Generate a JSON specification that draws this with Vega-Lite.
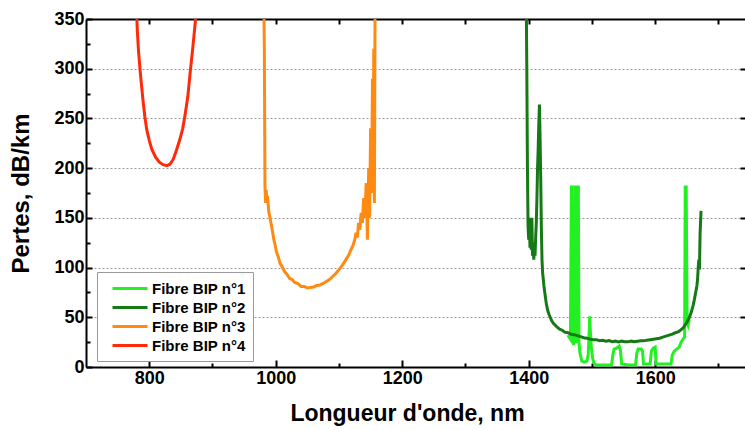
{
  "$schema": "https://vega.github.io/schema/vega-lite/v6.json",
  "autosize": "none",
  "padding": {"left": 86, "top": 19, "right": 0, "bottom": 63},
  "width": 659,
  "height": 348,
  "background": "white",
  "config": {
    "view": {"stroke": null},
    "font": "Liberation Sans",
    "axis": {"labelFont": "Liberation Sans", "titleFont": "Liberation Sans", "labelColor": "black", "titleColor": "black"}
  },
  "data": {"values": [
    {"fibre": "Fibre BIP n°4", "lambda": 779, "pertes": 380},
    {"fibre": "Fibre BIP n°4", "lambda": 781, "pertes": 340},
    {"fibre": "Fibre BIP n°4", "lambda": 783, "pertes": 318},
    {"fibre": "Fibre BIP n°4", "lambda": 786, "pertes": 295},
    {"fibre": "Fibre BIP n°4", "lambda": 790, "pertes": 269},
    {"fibre": "Fibre BIP n°4", "lambda": 793, "pertes": 252},
    {"fibre": "Fibre BIP n°4", "lambda": 796, "pertes": 239},
    {"fibre": "Fibre BIP n°4", "lambda": 800, "pertes": 228},
    {"fibre": "Fibre BIP n°4", "lambda": 804, "pertes": 219},
    {"fibre": "Fibre BIP n°4", "lambda": 810, "pertes": 211},
    {"fibre": "Fibre BIP n°4", "lambda": 816, "pertes": 206},
    {"fibre": "Fibre BIP n°4", "lambda": 822, "pertes": 203.5},
    {"fibre": "Fibre BIP n°4", "lambda": 828, "pertes": 202.5},
    {"fibre": "Fibre BIP n°4", "lambda": 833, "pertes": 204},
    {"fibre": "Fibre BIP n°4", "lambda": 838, "pertes": 209},
    {"fibre": "Fibre BIP n°4", "lambda": 843, "pertes": 218},
    {"fibre": "Fibre BIP n°4", "lambda": 848, "pertes": 228},
    {"fibre": "Fibre BIP n°4", "lambda": 853, "pertes": 240},
    {"fibre": "Fibre BIP n°4", "lambda": 857, "pertes": 255},
    {"fibre": "Fibre BIP n°4", "lambda": 861, "pertes": 272},
    {"fibre": "Fibre BIP n°4", "lambda": 865, "pertes": 298},
    {"fibre": "Fibre BIP n°4", "lambda": 869, "pertes": 322},
    {"fibre": "Fibre BIP n°4", "lambda": 873, "pertes": 348},
    {"fibre": "Fibre BIP n°4", "lambda": 875, "pertes": 370},

    {"fibre": "Fibre BIP n°3", "lambda": 981, "pertes": 380},
    {"fibre": "Fibre BIP n°3", "lambda": 982, "pertes": 320},
    {"fibre": "Fibre BIP n°3", "lambda": 982.5, "pertes": 250},
    {"fibre": "Fibre BIP n°3", "lambda": 983, "pertes": 181},
    {"fibre": "Fibre BIP n°3", "lambda": 984, "pertes": 165},
    {"fibre": "Fibre BIP n°3", "lambda": 985, "pertes": 178},
    {"fibre": "Fibre BIP n°3", "lambda": 986, "pertes": 166},
    {"fibre": "Fibre BIP n°3", "lambda": 987, "pertes": 172},
    {"fibre": "Fibre BIP n°3", "lambda": 989, "pertes": 156},
    {"fibre": "Fibre BIP n°3", "lambda": 991, "pertes": 150},
    {"fibre": "Fibre BIP n°3", "lambda": 993, "pertes": 143},
    {"fibre": "Fibre BIP n°3", "lambda": 995, "pertes": 136},
    {"fibre": "Fibre BIP n°3", "lambda": 997, "pertes": 128},
    {"fibre": "Fibre BIP n°3", "lambda": 999, "pertes": 123},
    {"fibre": "Fibre BIP n°3", "lambda": 1001, "pertes": 116},
    {"fibre": "Fibre BIP n°3", "lambda": 1004, "pertes": 111},
    {"fibre": "Fibre BIP n°3", "lambda": 1007, "pertes": 104},
    {"fibre": "Fibre BIP n°3", "lambda": 1010, "pertes": 101},
    {"fibre": "Fibre BIP n°3", "lambda": 1014, "pertes": 96},
    {"fibre": "Fibre BIP n°3", "lambda": 1018, "pertes": 93},
    {"fibre": "Fibre BIP n°3", "lambda": 1022, "pertes": 89},
    {"fibre": "Fibre BIP n°3", "lambda": 1026, "pertes": 88},
    {"fibre": "Fibre BIP n°3", "lambda": 1030, "pertes": 85},
    {"fibre": "Fibre BIP n°3", "lambda": 1035, "pertes": 84},
    {"fibre": "Fibre BIP n°3", "lambda": 1040, "pertes": 81},
    {"fibre": "Fibre BIP n°3", "lambda": 1045, "pertes": 81},
    {"fibre": "Fibre BIP n°3", "lambda": 1050, "pertes": 79.5},
    {"fibre": "Fibre BIP n°3", "lambda": 1055, "pertes": 80},
    {"fibre": "Fibre BIP n°3", "lambda": 1060, "pertes": 80.5},
    {"fibre": "Fibre BIP n°3", "lambda": 1065, "pertes": 82},
    {"fibre": "Fibre BIP n°3", "lambda": 1070, "pertes": 82.5},
    {"fibre": "Fibre BIP n°3", "lambda": 1075, "pertes": 84},
    {"fibre": "Fibre BIP n°3", "lambda": 1080, "pertes": 86},
    {"fibre": "Fibre BIP n°3", "lambda": 1085, "pertes": 88},
    {"fibre": "Fibre BIP n°3", "lambda": 1090, "pertes": 91},
    {"fibre": "Fibre BIP n°3", "lambda": 1095, "pertes": 94},
    {"fibre": "Fibre BIP n°3", "lambda": 1100, "pertes": 98},
    {"fibre": "Fibre BIP n°3", "lambda": 1105, "pertes": 102},
    {"fibre": "Fibre BIP n°3", "lambda": 1110, "pertes": 107},
    {"fibre": "Fibre BIP n°3", "lambda": 1115, "pertes": 112},
    {"fibre": "Fibre BIP n°3", "lambda": 1119, "pertes": 118},
    {"fibre": "Fibre BIP n°3", "lambda": 1122, "pertes": 122},
    {"fibre": "Fibre BIP n°3", "lambda": 1125, "pertes": 128},
    {"fibre": "Fibre BIP n°3", "lambda": 1127, "pertes": 135},
    {"fibre": "Fibre BIP n°3", "lambda": 1129, "pertes": 130},
    {"fibre": "Fibre BIP n°3", "lambda": 1131, "pertes": 145},
    {"fibre": "Fibre BIP n°3", "lambda": 1133, "pertes": 138},
    {"fibre": "Fibre BIP n°3", "lambda": 1135, "pertes": 155},
    {"fibre": "Fibre BIP n°3", "lambda": 1137, "pertes": 145},
    {"fibre": "Fibre BIP n°3", "lambda": 1139, "pertes": 170},
    {"fibre": "Fibre BIP n°3", "lambda": 1141, "pertes": 150},
    {"fibre": "Fibre BIP n°3", "lambda": 1143, "pertes": 185},
    {"fibre": "Fibre BIP n°3", "lambda": 1145, "pertes": 128},
    {"fibre": "Fibre BIP n°3", "lambda": 1147, "pertes": 200},
    {"fibre": "Fibre BIP n°3", "lambda": 1148.5, "pertes": 150},
    {"fibre": "Fibre BIP n°3", "lambda": 1150, "pertes": 240},
    {"fibre": "Fibre BIP n°3", "lambda": 1151.5, "pertes": 175},
    {"fibre": "Fibre BIP n°3", "lambda": 1153, "pertes": 290},
    {"fibre": "Fibre BIP n°3", "lambda": 1154, "pertes": 200},
    {"fibre": "Fibre BIP n°3", "lambda": 1155, "pertes": 320},
    {"fibre": "Fibre BIP n°3", "lambda": 1156, "pertes": 165},
    {"fibre": "Fibre BIP n°3", "lambda": 1157, "pertes": 350},
    {"fibre": "Fibre BIP n°3", "lambda": 1158, "pertes": 380},

    {"fibre": "Fibre BIP n°1", "lambda": 1462, "pertes": 32},
    {"fibre": "Fibre BIP n°1", "lambda": 1466, "pertes": 28},
    {"fibre": "Fibre BIP n°1", "lambda": 1467.5, "pertes": 181},
    {"fibre": "Fibre BIP n°1", "lambda": 1468.5, "pertes": 181},
    {"fibre": "Fibre BIP n°1", "lambda": 1469.5, "pertes": 40},
    {"fibre": "Fibre BIP n°1", "lambda": 1471, "pertes": 22},
    {"fibre": "Fibre BIP n°1", "lambda": 1472.5, "pertes": 30},
    {"fibre": "Fibre BIP n°1", "lambda": 1473.5, "pertes": 181},
    {"fibre": "Fibre BIP n°1", "lambda": 1474.5, "pertes": 181},
    {"fibre": "Fibre BIP n°1", "lambda": 1475.5, "pertes": 30},
    {"fibre": "Fibre BIP n°1", "lambda": 1476.5, "pertes": 24},
    {"fibre": "Fibre BIP n°1", "lambda": 1477.5, "pertes": 181},
    {"fibre": "Fibre BIP n°1", "lambda": 1478.5, "pertes": 181},
    {"fibre": "Fibre BIP n°1", "lambda": 1479.5, "pertes": 25},
    {"fibre": "Fibre BIP n°1", "lambda": 1481, "pertes": 14},
    {"fibre": "Fibre BIP n°1", "lambda": 1484, "pertes": 6},
    {"fibre": "Fibre BIP n°1", "lambda": 1488, "pertes": 5},
    {"fibre": "Fibre BIP n°1", "lambda": 1492, "pertes": 6},
    {"fibre": "Fibre BIP n°1", "lambda": 1494, "pertes": 12},
    {"fibre": "Fibre BIP n°1", "lambda": 1495.5, "pertes": 32},
    {"fibre": "Fibre BIP n°1", "lambda": 1496.5, "pertes": 51},
    {"fibre": "Fibre BIP n°1", "lambda": 1497.5, "pertes": 36},
    {"fibre": "Fibre BIP n°1", "lambda": 1499, "pertes": 20},
    {"fibre": "Fibre BIP n°1", "lambda": 1501, "pertes": 9},
    {"fibre": "Fibre BIP n°1", "lambda": 1503, "pertes": 4},
    {"fibre": "Fibre BIP n°1", "lambda": 1506, "pertes": 2},
    {"fibre": "Fibre BIP n°1", "lambda": 1518, "pertes": 2},
    {"fibre": "Fibre BIP n°1", "lambda": 1531, "pertes": 2},
    {"fibre": "Fibre BIP n°1", "lambda": 1533, "pertes": 12},
    {"fibre": "Fibre BIP n°1", "lambda": 1535, "pertes": 18},
    {"fibre": "Fibre BIP n°1", "lambda": 1539, "pertes": 19},
    {"fibre": "Fibre BIP n°1", "lambda": 1543, "pertes": 21},
    {"fibre": "Fibre BIP n°1", "lambda": 1545, "pertes": 17},
    {"fibre": "Fibre BIP n°1", "lambda": 1547, "pertes": 3},
    {"fibre": "Fibre BIP n°1", "lambda": 1558, "pertes": 2},
    {"fibre": "Fibre BIP n°1", "lambda": 1569, "pertes": 2},
    {"fibre": "Fibre BIP n°1", "lambda": 1571, "pertes": 14},
    {"fibre": "Fibre BIP n°1", "lambda": 1573, "pertes": 18},
    {"fibre": "Fibre BIP n°1", "lambda": 1578, "pertes": 18},
    {"fibre": "Fibre BIP n°1", "lambda": 1580, "pertes": 16},
    {"fibre": "Fibre BIP n°1", "lambda": 1581.5, "pertes": 3},
    {"fibre": "Fibre BIP n°1", "lambda": 1592, "pertes": 3},
    {"fibre": "Fibre BIP n°1", "lambda": 1594, "pertes": 16},
    {"fibre": "Fibre BIP n°1", "lambda": 1597, "pertes": 19},
    {"fibre": "Fibre BIP n°1", "lambda": 1600, "pertes": 20},
    {"fibre": "Fibre BIP n°1", "lambda": 1601.5, "pertes": 3},
    {"fibre": "Fibre BIP n°1", "lambda": 1612, "pertes": 3},
    {"fibre": "Fibre BIP n°1", "lambda": 1625, "pertes": 3},
    {"fibre": "Fibre BIP n°1", "lambda": 1627, "pertes": 12},
    {"fibre": "Fibre BIP n°1", "lambda": 1630, "pertes": 16},
    {"fibre": "Fibre BIP n°1", "lambda": 1634, "pertes": 18},
    {"fibre": "Fibre BIP n°1", "lambda": 1638, "pertes": 20},
    {"fibre": "Fibre BIP n°1", "lambda": 1641, "pertes": 25},
    {"fibre": "Fibre BIP n°1", "lambda": 1644, "pertes": 28},
    {"fibre": "Fibre BIP n°1", "lambda": 1646.5, "pertes": 30},
    {"fibre": "Fibre BIP n°1", "lambda": 1647.5, "pertes": 181},
    {"fibre": "Fibre BIP n°1", "lambda": 1649, "pertes": 181},
    {"fibre": "Fibre BIP n°1", "lambda": 1650.5, "pertes": 45},
    {"fibre": "Fibre BIP n°1", "lambda": 1652, "pertes": 42},
    {"fibre": "Fibre BIP n°1", "lambda": 1654, "pertes": 48},

    {"fibre": "Fibre BIP n°2", "lambda": 1396, "pertes": 380},
    {"fibre": "Fibre BIP n°2", "lambda": 1397, "pertes": 300},
    {"fibre": "Fibre BIP n°2", "lambda": 1398, "pertes": 200},
    {"fibre": "Fibre BIP n°2", "lambda": 1399, "pertes": 141},
    {"fibre": "Fibre BIP n°2", "lambda": 1400, "pertes": 128},
    {"fibre": "Fibre BIP n°2", "lambda": 1401, "pertes": 150},
    {"fibre": "Fibre BIP n°2", "lambda": 1402, "pertes": 120},
    {"fibre": "Fibre BIP n°2", "lambda": 1403, "pertes": 140},
    {"fibre": "Fibre BIP n°2", "lambda": 1404, "pertes": 118},
    {"fibre": "Fibre BIP n°2", "lambda": 1405, "pertes": 150},
    {"fibre": "Fibre BIP n°2", "lambda": 1406, "pertes": 112},
    {"fibre": "Fibre BIP n°2", "lambda": 1407, "pertes": 125},
    {"fibre": "Fibre BIP n°2", "lambda": 1408, "pertes": 108},
    {"fibre": "Fibre BIP n°2", "lambda": 1409, "pertes": 118},
    {"fibre": "Fibre BIP n°2", "lambda": 1410, "pertes": 112},
    {"fibre": "Fibre BIP n°2", "lambda": 1411, "pertes": 130},
    {"fibre": "Fibre BIP n°2", "lambda": 1412, "pertes": 145},
    {"fibre": "Fibre BIP n°2", "lambda": 1413, "pertes": 170},
    {"fibre": "Fibre BIP n°2", "lambda": 1414, "pertes": 200},
    {"fibre": "Fibre BIP n°2", "lambda": 1415, "pertes": 220},
    {"fibre": "Fibre BIP n°2", "lambda": 1416, "pertes": 245},
    {"fibre": "Fibre BIP n°2", "lambda": 1417, "pertes": 264},
    {"fibre": "Fibre BIP n°2", "lambda": 1418, "pertes": 230},
    {"fibre": "Fibre BIP n°2", "lambda": 1419, "pertes": 190},
    {"fibre": "Fibre BIP n°2", "lambda": 1420, "pertes": 140},
    {"fibre": "Fibre BIP n°2", "lambda": 1421, "pertes": 108},
    {"fibre": "Fibre BIP n°2", "lambda": 1422, "pertes": 95},
    {"fibre": "Fibre BIP n°2", "lambda": 1424, "pertes": 82},
    {"fibre": "Fibre BIP n°2", "lambda": 1426, "pertes": 72},
    {"fibre": "Fibre BIP n°2", "lambda": 1428, "pertes": 63},
    {"fibre": "Fibre BIP n°2", "lambda": 1430, "pertes": 57},
    {"fibre": "Fibre BIP n°2", "lambda": 1432, "pertes": 53},
    {"fibre": "Fibre BIP n°2", "lambda": 1434, "pertes": 50},
    {"fibre": "Fibre BIP n°2", "lambda": 1436, "pertes": 47},
    {"fibre": "Fibre BIP n°2", "lambda": 1439, "pertes": 44},
    {"fibre": "Fibre BIP n°2", "lambda": 1442, "pertes": 42},
    {"fibre": "Fibre BIP n°2", "lambda": 1445, "pertes": 40},
    {"fibre": "Fibre BIP n°2", "lambda": 1449, "pertes": 38},
    {"fibre": "Fibre BIP n°2", "lambda": 1453, "pertes": 37},
    {"fibre": "Fibre BIP n°2", "lambda": 1457, "pertes": 35},
    {"fibre": "Fibre BIP n°2", "lambda": 1462, "pertes": 34.5},
    {"fibre": "Fibre BIP n°2", "lambda": 1467, "pertes": 33},
    {"fibre": "Fibre BIP n°2", "lambda": 1472, "pertes": 32.5},
    {"fibre": "Fibre BIP n°2", "lambda": 1477, "pertes": 31.5},
    {"fibre": "Fibre BIP n°2", "lambda": 1482, "pertes": 30.5},
    {"fibre": "Fibre BIP n°2", "lambda": 1487, "pertes": 29.5},
    {"fibre": "Fibre BIP n°2", "lambda": 1492, "pertes": 29},
    {"fibre": "Fibre BIP n°2", "lambda": 1497, "pertes": 28},
    {"fibre": "Fibre BIP n°2", "lambda": 1502, "pertes": 27.5},
    {"fibre": "Fibre BIP n°2", "lambda": 1507, "pertes": 27.5},
    {"fibre": "Fibre BIP n°2", "lambda": 1512, "pertes": 26.5},
    {"fibre": "Fibre BIP n°2", "lambda": 1517, "pertes": 26.8},
    {"fibre": "Fibre BIP n°2", "lambda": 1522, "pertes": 26},
    {"fibre": "Fibre BIP n°2", "lambda": 1527, "pertes": 26.5},
    {"fibre": "Fibre BIP n°2", "lambda": 1532, "pertes": 25.5},
    {"fibre": "Fibre BIP n°2", "lambda": 1537, "pertes": 26},
    {"fibre": "Fibre BIP n°2", "lambda": 1542, "pertes": 25.3},
    {"fibre": "Fibre BIP n°2", "lambda": 1547, "pertes": 26},
    {"fibre": "Fibre BIP n°2", "lambda": 1552, "pertes": 25.5},
    {"fibre": "Fibre BIP n°2", "lambda": 1557, "pertes": 25.3},
    {"fibre": "Fibre BIP n°2", "lambda": 1562, "pertes": 26},
    {"fibre": "Fibre BIP n°2", "lambda": 1567, "pertes": 25.5},
    {"fibre": "Fibre BIP n°2", "lambda": 1572, "pertes": 26},
    {"fibre": "Fibre BIP n°2", "lambda": 1577, "pertes": 26.5},
    {"fibre": "Fibre BIP n°2", "lambda": 1582, "pertes": 26.3},
    {"fibre": "Fibre BIP n°2", "lambda": 1587, "pertes": 27},
    {"fibre": "Fibre BIP n°2", "lambda": 1592, "pertes": 27.5},
    {"fibre": "Fibre BIP n°2", "lambda": 1597, "pertes": 28},
    {"fibre": "Fibre BIP n°2", "lambda": 1602, "pertes": 28.5},
    {"fibre": "Fibre BIP n°2", "lambda": 1607, "pertes": 29},
    {"fibre": "Fibre BIP n°2", "lambda": 1612, "pertes": 30},
    {"fibre": "Fibre BIP n°2", "lambda": 1617, "pertes": 31},
    {"fibre": "Fibre BIP n°2", "lambda": 1622, "pertes": 32},
    {"fibre": "Fibre BIP n°2", "lambda": 1627, "pertes": 33},
    {"fibre": "Fibre BIP n°2", "lambda": 1632, "pertes": 34.5},
    {"fibre": "Fibre BIP n°2", "lambda": 1637, "pertes": 35.5},
    {"fibre": "Fibre BIP n°2", "lambda": 1642, "pertes": 38},
    {"fibre": "Fibre BIP n°2", "lambda": 1645, "pertes": 40},
    {"fibre": "Fibre BIP n°2", "lambda": 1648, "pertes": 43},
    {"fibre": "Fibre BIP n°2", "lambda": 1651, "pertes": 46},
    {"fibre": "Fibre BIP n°2", "lambda": 1654, "pertes": 50},
    {"fibre": "Fibre BIP n°2", "lambda": 1657, "pertes": 55},
    {"fibre": "Fibre BIP n°2", "lambda": 1660, "pertes": 62},
    {"fibre": "Fibre BIP n°2", "lambda": 1662, "pertes": 68},
    {"fibre": "Fibre BIP n°2", "lambda": 1664, "pertes": 75},
    {"fibre": "Fibre BIP n°2", "lambda": 1666, "pertes": 82},
    {"fibre": "Fibre BIP n°2", "lambda": 1667, "pertes": 88},
    {"fibre": "Fibre BIP n°2", "lambda": 1668, "pertes": 100},
    {"fibre": "Fibre BIP n°2", "lambda": 1669, "pertes": 108},
    {"fibre": "Fibre BIP n°2", "lambda": 1670, "pertes": 98},
    {"fibre": "Fibre BIP n°2", "lambda": 1671, "pertes": 135},
    {"fibre": "Fibre BIP n°2", "lambda": 1672.5, "pertes": 157}
  ]},
  "resolve": {"axis": {"x": "independent", "y": "independent"}},
  "layer": [
    {
      "mark": {"type": "line", "strokeWidth": 3, "clip": true},
      "encoding": {
        "x": {
          "field": "lambda", "type": "quantitative",
          "scale": {"domain": [700, 1742], "nice": false, "zero": false},
          "axis": {
            "orient": "bottom", "title": "Longueur d'onde, nm",
            "values": [800, 900, 1000, 1100, 1200, 1300, 1400, 1500, 1600, 1700],
            "labelExpr": "datum.value % 200 === 0 ? datum.label : ''",
            "format": "d",
            "grid": false,
            "domainColor": "black", "domainWidth": 2,
            "tickColor": "black", "tickWidth": 2,
            "tickSize": {"condition": {"test": "datum.value % 200 === 0", "value": -7}, "value": -4},
            "labelFontSize": 18, "labelFontWeight": "bold", "labelPadding": 9,
            "titleFontSize": 23, "titleFontWeight": "bold", "titlePadding": 15,
            "titleX": 321
          }
        },
        "y": {
          "field": "pertes", "type": "quantitative",
          "scale": {"domain": [0, 350], "nice": false},
          "axis": {
            "orient": "left", "title": "Pertes, dB/km",
            "values": [0, 25, 50, 75, 100, 125, 150, 175, 200, 225, 250, 275, 300, 325, 350],
            "labelExpr": "datum.value % 50 === 0 ? datum.label : ''",
            "grid": true,
            "gridColor": "#999999", "gridDash": [2, 2], "gridWidth": 1,
            "gridOpacity": {"condition": {"test": "datum.value > 0 && datum.value < 350 && datum.value % 50 === 0", "value": 1}, "value": 0},
            "domainColor": "black", "domainWidth": 2,
            "tickColor": "black", "tickWidth": 2,
            "tickSize": {"condition": {"test": "datum.value % 50 === 0", "value": -6}, "value": -4},
            "labelFontSize": 18, "labelFontWeight": "bold", "labelPadding": 8,
            "titleFontSize": 24, "titleFontWeight": "bold", "titlePadding": 20
          }
        },
        "color": {
          "field": "fibre", "type": "nominal",
          "scale": {
            "domain": ["Fibre BIP n°1", "Fibre BIP n°2", "Fibre BIP n°3", "Fibre BIP n°4"],
            "range": ["#22f022", "#157a15", "#ff8a12", "#ff2a0a"]
          },
          "legend": {
            "title": null, "orient": "none", "legendX": 11, "legendY": 253,
            "strokeColor": "#9a9a9a", "fillColor": "white", "padding": 7,
            "symbolType": "M-1,0H3.375", "symbolSize": 256, "symbolStrokeWidth": 3, "symbolOffset": 7,
            "labelFont": "Liberation Sans", "labelFontSize": 15, "labelFontWeight": "bold",
            "labelColor": "black", "labelOffset": 22, "rowPadding": 1
          }
        }
      }
    },
    {
      "mark": {"type": "line", "strokeOpacity": 0},
      "encoding": {
        "x": {
          "field": "lambda", "type": "quantitative",
          "axis": {
            "orient": "top", "title": null, "labels": false, "grid": false,
            "values": [800, 900, 1000, 1100, 1200, 1300, 1400, 1500, 1600, 1700],
            "domainColor": "black", "domainWidth": 2,
            "tickColor": "black", "tickWidth": 2, "tickSize": -5
          }
        },
        "y": {
          "field": "pertes", "type": "quantitative",
          "axis": {
            "orient": "right", "title": null, "labels": false, "grid": false,
            "values": [50, 100, 150, 200, 250, 300],
            "domain": false,
            "tickColor": "black", "tickWidth": 2, "tickSize": -5
          }
        },
        "detail": {"field": "fibre", "type": "nominal"}
      }
    }
  ]
}
